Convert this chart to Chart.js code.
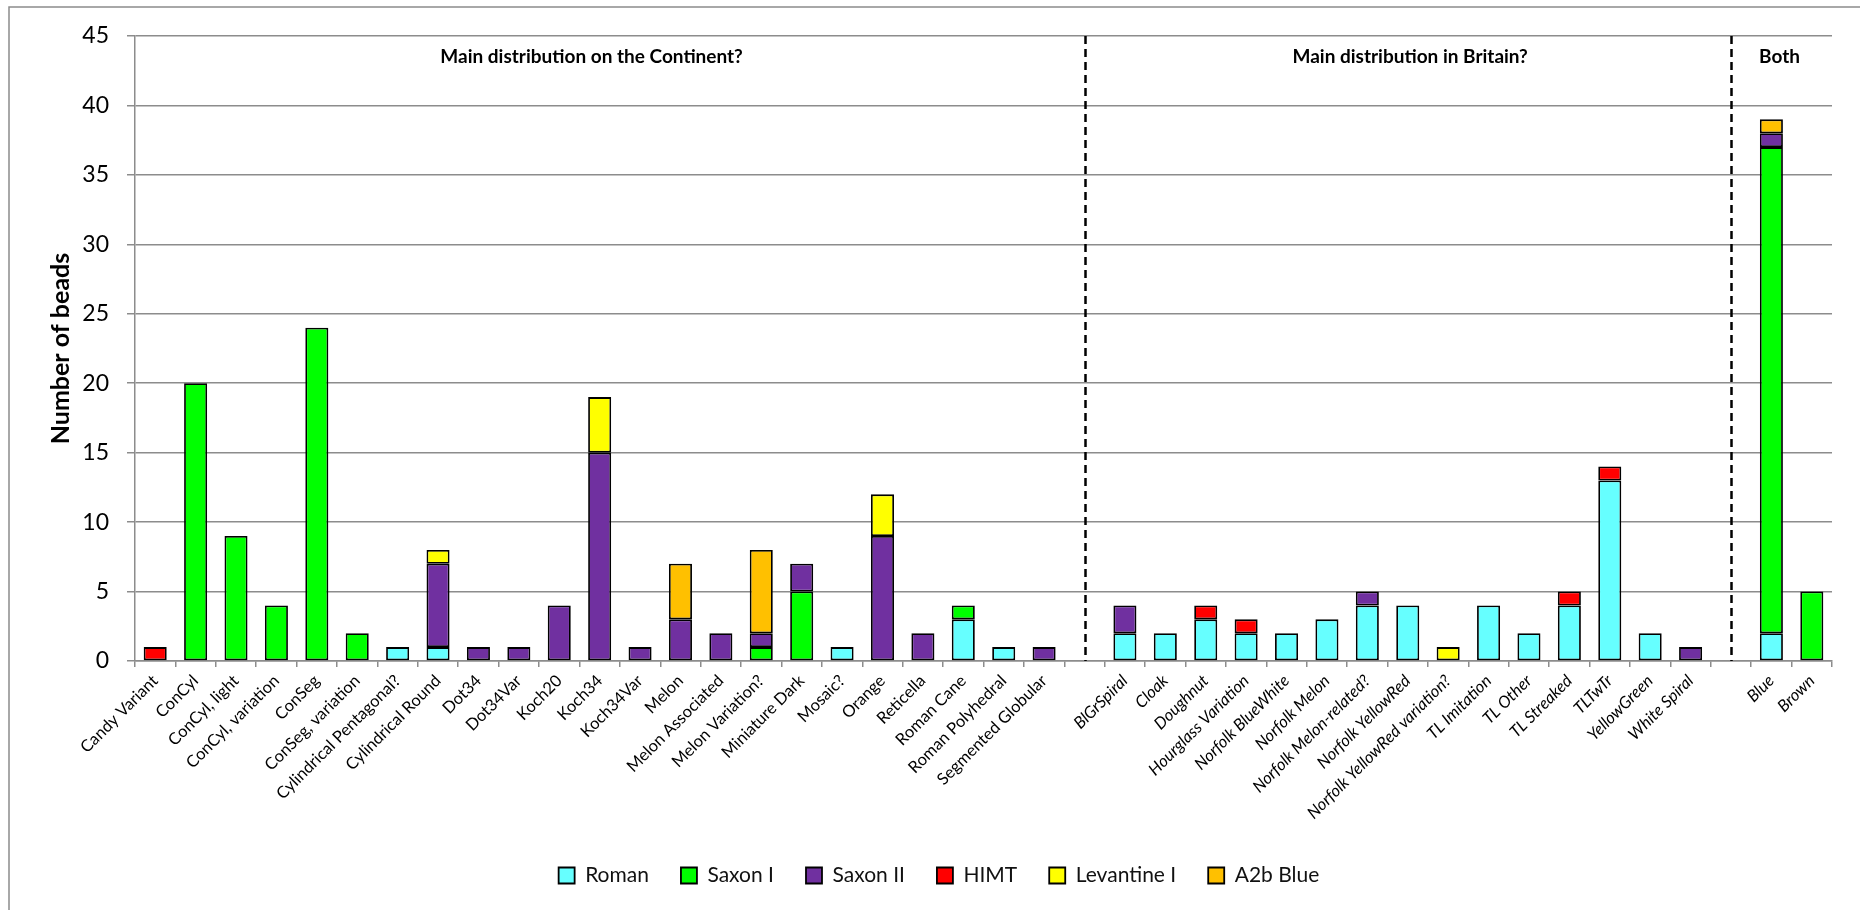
<!DOCTYPE html>
<html>
<head>
<meta charset="utf-8">
<title>Bead types by period</title>
<script src="https://cdn.jsdelivr.net/npm/chart.js@4.4.1/dist/chart.umd.min.js"></script>
<style>
  html, body { margin: 0; padding: 0; background: #fff; }
  #wrap { width: 1860px; height: 910px; }
</style>
</head>
<body>
<div id="wrap"><canvas id="beadChart" width="1860" height="910"></canvas></div>
<script>
// bead types: continent group, gap, Britain group, gap, both
const categories = [
  'Candy Variant', 'ConCyl', 'ConCyl, light', 'ConCyl, variation', 'ConSeg', 'ConSeg, variation',
  'Cylindrical Pentagonal?', 'Cylindrical Round', 'Dot34', 'Dot34Var', 'Koch20', 'Koch34', 'Koch34Var',
  'Melon', 'Melon Associated', 'Melon Variation?', 'Miniature Dark', 'Mosaic?', 'Orange', 'Reticella',
  'Roman Cane', 'Roman Polyhedral', 'Segmented Globular',
  '',
  'BlGrSpiral', 'Cloak', 'Doughnut', 'Hourglass Variation', 'Norfolk BlueWhite', 'Norfolk Melon',
  'Norfolk Melon-related?', 'Norfolk YellowRed', 'Norfolk YellowRed variation?', 'TL Imitation',
  'TL Other', 'TL Streaked', 'TLTwTr', 'YellowGreen', 'White Spiral',
  '',
  'Blue', 'Brown'
];

//                continent                                                       | gap | britain                                  | gap | both
const roman     = [0,0,0,0,0,0,1,1,0,0,0,0,0,0,0,0,0,1,0,0,3,1,0,  0,  2,2,3,2,2,3,4,4,0,4,2,4,13,2,0,  0,  2,0];
const saxonI    = [0,20,9,4,24,2,0,0,0,0,0,0,0,0,0,1,5,0,0,0,1,0,0, 0,  0,0,0,0,0,0,0,0,0,0,0,0,0,0,0,   0,  35,5];
const saxonII   = [0,0,0,0,0,0,0,6,1,1,4,15,1,3,2,1,2,0,9,2,0,0,1,  0,  2,0,0,0,0,0,1,0,0,0,0,0,0,0,1,   0,  1,0];
const himt      = [1,0,0,0,0,0,0,0,0,0,0,0,0,0,0,0,0,0,0,0,0,0,0,   0,  0,0,1,1,0,0,0,0,0,0,0,1,1,0,0,   0,  0,0];
const levantine = [0,0,0,0,0,0,0,1,0,0,0,4,0,0,0,0,0,0,3,0,0,0,0,   0,  0,0,0,0,0,0,0,0,1,0,0,0,0,0,0,   0,  0,0];
const a2bBlue   = [0,0,0,0,0,0,0,0,0,0,0,0,0,4,0,6,0,0,0,0,0,0,0,   0,  0,0,0,0,0,0,0,0,0,0,0,0,0,0,0,   0,  1,0];

const yTicks = [0, 5, 10, 15, 20, 25, 30, 35, 40, 45];

const seriesNames = ['Roman', 'Saxon I', 'Saxon II', 'HIMT', 'Levantine I', 'A2b Blue'];
const seriesValues = [roman, saxonI, saxonII, himt, levantine, a2bBlue];
const seriesColors = ['#66FFFF', '#00FF00', '#7030A0', '#FF0000', '#FFFF00', '#FFC000'];

// group headings and the empty slots that separate the groups
const groupTitles = ['Main distribution on the Continent?', 'Main distribution in Britain?', 'Both'];
const groupTitleAt = [10.8, 31.06, 40.2];
const gapSlots = [23, 39];
const firstItalic = 24;

const FONT = 'Lato';

const datasets = seriesNames.map((name, i) => ({
  label: name,
  data: seriesValues[i].map(v => (v === 0 ? null : v)),
  backgroundColor: seriesColors[i],
  borderColor: '#000',
  borderWidth: 1.8,
  borderSkipped: false,
  barPercentage: 0.57,
  categoryPercentage: 1
}));

const frame = {
  id: 'frame',
  beforeDraw(chart) {
    const ctx = chart.ctx;
    ctx.save();
    ctx.strokeStyle = '#8c8c8c';
    ctx.lineWidth = 1.5;
    ctx.beginPath();
    ctx.moveTo(9, 910);
    ctx.lineTo(9, 7);
    ctx.lineTo(1860, 7);
    ctx.stroke();
    ctx.restore();
  }
};

const dividers = {
  id: 'dividers',
  afterDatasetsDraw(chart) {
    const { ctx, chartArea } = chart;
    const x = chart.scales.x;
    ctx.save();
    ctx.strokeStyle = '#000';
    ctx.lineWidth = 2.5;
    ctx.setLineDash([8, 5]);
    gapSlots.forEach(i => {
      const px = Math.round(x.getPixelForValue(i)) + 0.5;
      ctx.beginPath();
      ctx.moveTo(px, chartArea.top);
      ctx.lineTo(px, chartArea.bottom);
      ctx.stroke();
    });
    ctx.setLineDash([]);
    ctx.fillStyle = '#000';
    ctx.font = 'bold 19px ' + FONT;
    ctx.textAlign = 'center';
    ctx.textBaseline = 'middle';
    groupTitles.forEach((t, i) => {
      ctx.fillText(t, x.getPixelForValue(groupTitleAt[i]), chartArea.top + 21);
    });
    ctx.restore();
  }
};

new Chart(document.getElementById('beadChart'), {
  type: 'bar',
  data: { labels: categories, datasets },
  options: {
    responsive: false,
    animation: false,
    layout: { padding: { left: 46, right: 28, top: 36, bottom: 14 } },
    plugins: {
      tooltip: { enabled: false },
      legend: {
        position: 'bottom',
        labels: {
          color: '#111',
          font: { family: FONT, size: 21 },
          boxWidth: 16,
          boxHeight: 16,
          padding: 32
        }
      }
    },
    scales: {
      x: {
        stacked: true,
        offset: true,
        afterFit(scale) { scale.height = 172; },
        grid: {
          drawOnChartArea: false,
          drawTicks: true,
          tickLength: 6,
          color: '#8c8c8c',
          lineWidth: 1.5
        },
        border: { display: true, color: '#8c8c8c', width: 1.5 },
        ticks: {
          autoSkip: false,
          minRotation: 45,
          maxRotation: 45,
          padding: 4,
          color: '#000',
          font: ctx => ({
            family: FONT,
            size: 16.5,
            style: ctx.index >= firstItalic ? 'italic' : 'normal'
          })
        }
      },
      y: {
        stacked: true,
        min: 0,
        max: 45,
        afterFit(scale) { scale.width = 89; },
        afterBuildTicks(scale) { scale.ticks = yTicks.map(v => ({ value: v })); },
        title: {
          display: true,
          text: 'Number of beads',
          color: '#000',
          font: { family: FONT, size: 25, weight: 'bold' },
          padding: { top: 0, bottom: 0 }
        },
        grid: {
          color: '#8c8c8c',
          lineWidth: 1.5,
          tickLength: 8
        },
        border: { display: true, color: '#8c8c8c', width: 1.5 },
        ticks: {
          color: '#000',
          padding: 18,
          font: { family: FONT, size: 23 }
        }
      }
    }
  },
  plugins: [frame, dividers]
});
</script>
</body>
</html>
